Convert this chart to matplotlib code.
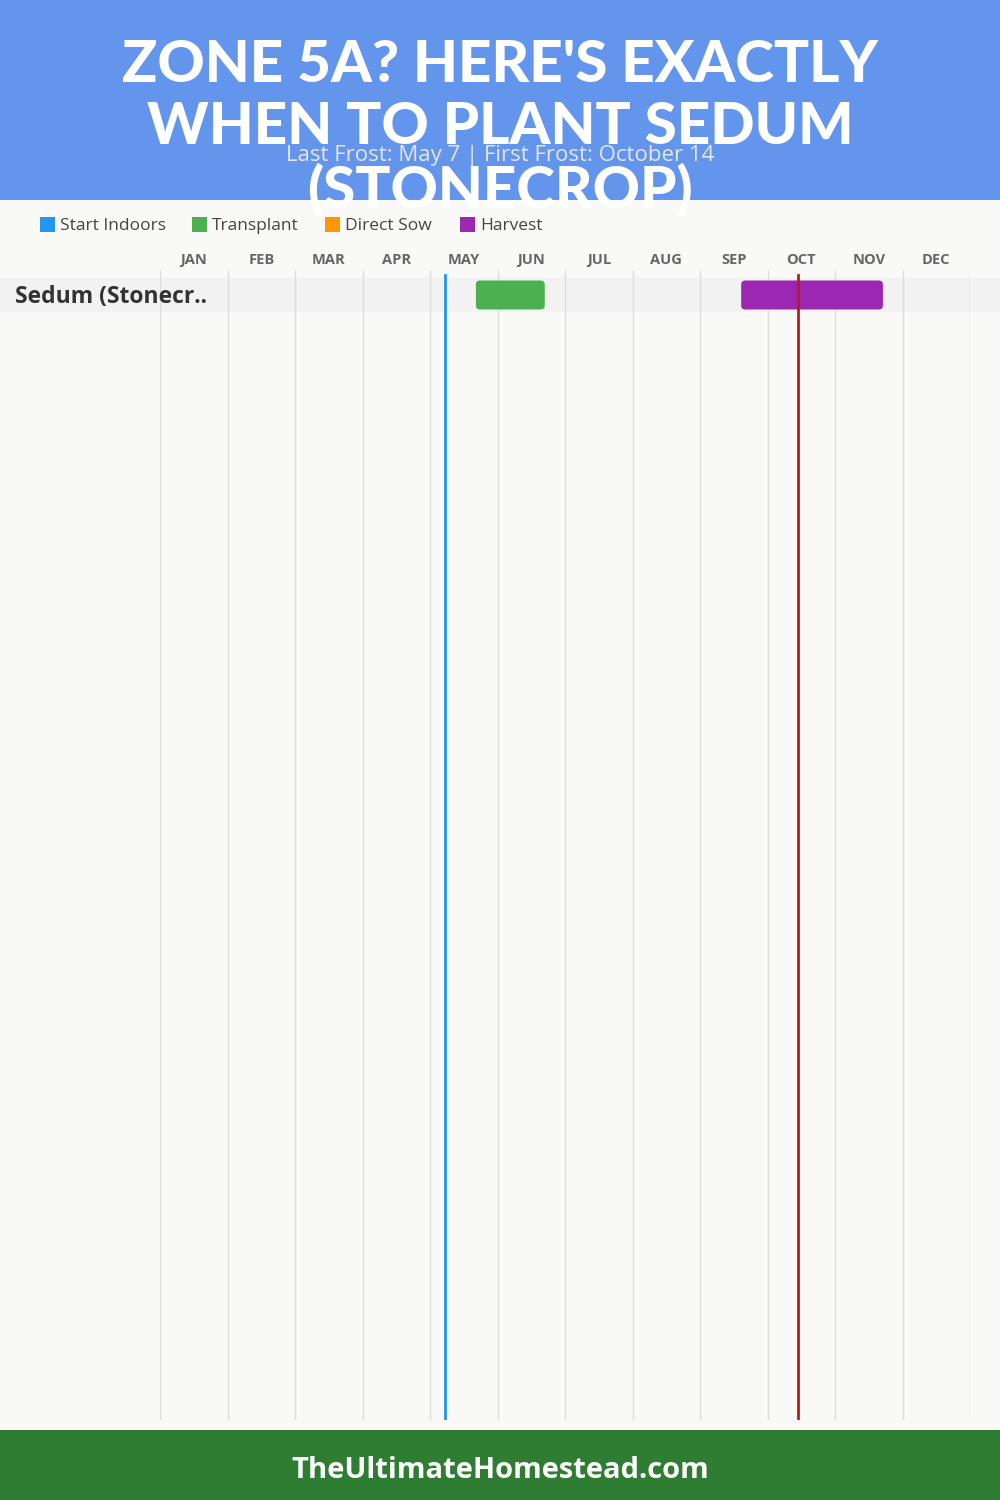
import matplotlib
matplotlib.use("Agg")
import matplotlib.pyplot as plt
from matplotlib.patches import Rectangle, FancyBboxPatch

# ---- data ----
months = ["JAN", "FEB", "MAR", "APR", "MAY", "JUN", "JUL", "AUG", "SEP", "OCT", "NOV", "DEC"]
crops = ["Sedum (Stonecr.."]
legend_names = ["Start Indoors", "Transplant", "Direct Sow", "Harvest"]
legend_colors = ["#2196F3", "#4CAF50", "#FF9800", "#9C27B0"]
# windows in month units (0 = Jan 1, 12 = Dec 31)
transplant_start = [4.68]
transplant_end = [5.70]
harvest_start = [8.61]
harvest_end = [10.71]
last_frost = 4 + 7 / 31     # May 7
first_frost = 9 + 14 / 31   # October 14
title_lines = ["ZONE 5A? HERE'S EXACTLY", "WHEN TO PLANT SEDUM", "(STONECROP)"]
subtitle = "Last Frost: May 7 | First Frost: October 14"
footer = "TheUltimateHomestead.com"

W, H = 1000, 1500
fig = plt.figure(figsize=(W / 100, H / 100), dpi=100)
fig.patch.set_facecolor("#f9f9f8")

def fx(px):
    return px / W

def fy(py):
    return 1 - py / H

# header
fig.patches.append(Rectangle((0, fy(200)), 1, 200 / H, transform=fig.transFigure,
                             facecolor="#6495ED", edgecolor="none", zorder=0))
# footer
fig.patches.append(Rectangle((0, 0), 1, 70 / H, transform=fig.transFigure,
                             facecolor="#2E7D32", edgecolor="none", zorder=0))

# main axes
ax_left, ax_right = 160, 970
ax_top, ax_bot = 270, 1420
ax = fig.add_axes([fx(ax_left), fy(ax_bot), (ax_right - ax_left) / W, (ax_bot - ax_top) / H])
ax.set_facecolor("none")
row_px = 34
band_top = 278
ax.set_xlim(0, 12)
top_val = -0.5 - (band_top - ax_top) / row_px
ax.set_ylim(top_val + (ax_bot - ax_top) / row_px, top_val)
for s in ax.spines.values():
    s.set_visible(False)
ax.set_xticks([])
ax.set_yticks([])

for i in range(13):
    ax.axvline(i, color="#dddddd", lw=1, zorder=1)

# row bands (span full width)
for r, name in enumerate(crops):
    y_top_px = band_top + r * row_px
    fig.patches.append(Rectangle((0, fy(y_top_px + row_px)), 1, row_px / H,
                                 transform=fig.transFigure, facecolor="#f2f2f2",
                                 edgecolor="none", zorder=1))
    fig.text(fx(15), fy(y_top_px + row_px / 2 + 2), name, ha="left", va="center",
             fontsize=16.5, fontweight="bold", color="#333333", family="Open Sans", zorder=5)

ax.set_zorder(3)

bar_h = 29 / row_px
asp = (12 / (ax_right - ax_left)) / (1 / row_px)
for r in range(len(crops)):
    for s, e, c in [(transplant_start[r], transplant_end[r], legend_colors[1]),
                    (harvest_start[r], harvest_end[r], legend_colors[3])]:
        p = FancyBboxPatch((s, r - bar_h / 2), e - s, bar_h,
                           boxstyle="round,pad=0,rounding_size=0.06",
                           mutation_aspect=1 / asp, facecolor=c, edgecolor="none", zorder=4)
        ax.add_patch(p)

ax.axvline(last_frost, ymin=0, ymax=1 - 5 / (ax_bot - ax_top), color="#2196F3", lw=2, zorder=5)
ax.axvline(first_frost, ymin=0, ymax=1 - 5 / (ax_bot - ax_top), color="#B71C1C", lw=2, zorder=5)

# month labels
for i, m in enumerate(months):
    ax.text(i + 0.5, -0.5 - (band_top - 260) / row_px,
            m, ha="center", va="center", fontsize=10.5, fontweight="bold", color="#666666",
            family="Open Sans", clip_on=False)

# legend
lx = [40, 192, 325, 460]
for x, name, c in zip(lx, legend_names, legend_colors):
    fig.patches.append(Rectangle((fx(x), fy(232)), 15 / W, 15 / H, transform=fig.transFigure,
                                 facecolor=c, edgecolor="none", zorder=2))
    fig.text(fx(x + 20), fy(226), name, ha="left", va="center", fontsize=12.5,
             color="#444444", family="Open Sans")

# title
for y, line in zip([66, 128, 190], title_lines):
    fig.text(0.5, fy(y), line, ha="center", va="center", fontsize=42, fontweight="black",
             color="white", family="Lato", zorder=6)
fig.text(0.5, fy(155), subtitle, ha="center", va="center", fontsize=16,
         color="#e6e6e6", family="Open Sans", zorder=7)

fig.text(0.5, fy(1471), footer, ha="center", va="center", fontsize=21,
         fontweight="bold", color="white", family="Open Sans")

fig.savefig("out.png", dpi=100, facecolor=fig.get_facecolor())
